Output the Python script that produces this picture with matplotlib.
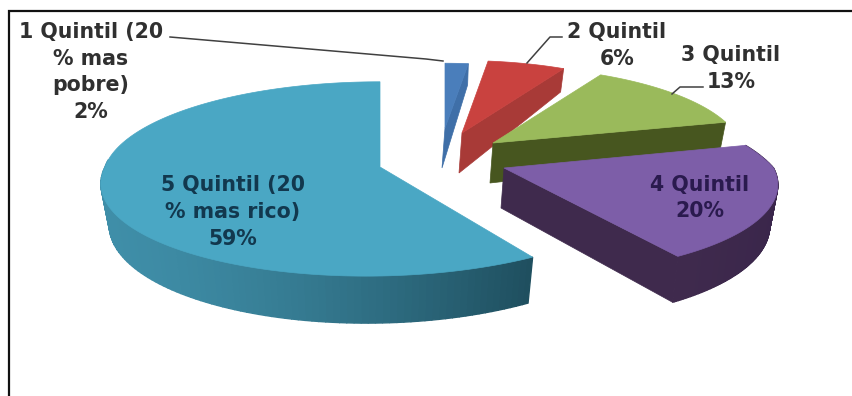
import numpy as np
import matplotlib
matplotlib.use('Agg')
import matplotlib.pyplot as plt
from matplotlib.colors import to_rgb

# Data
categories = ['1 Quintil (20\n% mas\npobre)', '2 Quintil', '3 Quintil', '4 Quintil', '5 Quintil (20\n% mas rico)']
values = [2, 6, 13, 20, 59]

# Look of each slice
top_colors = ['#4a7ebb', '#c9423f', '#9aba5b', '#7d5ea8', '#4aa7c4']
wall_colors = ['#3f6fa8', '#a83a37', '#47561f', '#3f2a4d', '#2f6f85']
rim_left = ['#2f5c90', '#93312f', '#47561f', '#3f2a4d', '#3f8ea8']
rim_right = ['#2f5c90', '#93312f', '#47561f', '#3a264b', '#1f4f5f']
label_colors = ['#303030', '#303030', '#303030', '#2a1a4e', '#12384e']

# Apex of each exploded slice and its radius scale, in pixels
apex_x = [445, 462, 493, 504, 380]
apex_y = [128, 133, 143, 168, 167]
scale = [0.76, 0.85, 0.90, 0.98, 1.0]
skew_front = [0, 0, 0, 15, -14]
skew_back = [0, 0, 0, -48, 0]
RADIUS = 275
TILT = 0.348
PERSP = 0.123
BOTTOM_SHRINK = 0.97

fig = plt.figure(figsize=(8.52, 3.96), dpi=100)
ax = fig.add_axes([0, 0, 1, 1])
ax.set_xlim(0, 852)
ax.set_ylim(396, 0)
ax.axis('off')


def project(theta, r, cx, cy, i):
    # theta clockwise from 12 o'clock, simple perspective on the pie plane
    s = scale[i]
    X = r * np.sin(theta)
    Y = -r * np.cos(theta)
    d = 1 - PERSP * Y
    lean = np.where(Y > 0, skew_front[i] * Y, skew_back[i] * -Y)
    return cx + RADIUS * s * X / d + lean, cy + RADIUS * s * TILT * Y / d, Y


def depth(Y):
    return np.interp(Y, [-1, 0, 1], [21, 40, 47])


fracs = np.array(values) / sum(values)
ends = np.cumsum(fracs) * 2 * np.pi
starts = ends - fracs * 2 * np.pi

for i in range(len(values)):
    cx, cy = apex_x[i], apex_y[i]
    th = np.linspace(starts[i], ends[i], 160)
    x, y, Y = project(th, 1.0, cx, cy, i)
    xb = cx + (x - cx) * BOTTOM_SHRINK

    # wall from the apex to the end angle
    if i < 4:
        ax.fill([cx, x[-1], xb[-1], cx - 3], [cy, y[-1], y[-1] + depth(Y[-1]), cy + depth(0)],
                color=wall_colors[i], lw=0.5, zorder=i * 3 + 1)

    # outer rim, front part only, colour moves along x
    c0, c1 = np.array(to_rgb(rim_left[i])), np.array(to_rgb(rim_right[i]))
    for j in range(len(th) - 1):
        if th[j] < np.pi * 0.42 and i != 4 or (i == 4 and th[j] > np.pi * 1.52):
            continue
        t = (x[j] - x.min()) / (x.max() - x.min())
        col = c0 + (c1 - c0) * t ** 1.5
        ax.fill([x[j], x[j + 1], xb[j + 1], xb[j]],
                [y[j], y[j + 1], y[j + 1] + depth(Y[j + 1]), y[j] + depth(Y[j])],
                color=col, lw=1.0, zorder=i * 3 + 2)

    # top face
    ax.fill(np.r_[cx, x], np.r_[cy, y], color=top_colors[i], lw=0.5, zorder=i * 3 + 3)

# Frame, top and left only
ax.plot([9, 9, 852], [396, 11, 11], color='#111111', lw=1.6, zorder=30, solid_joinstyle='miter')

# Leader lines
leader_color = '#404040'
ax.plot([170, 426, 443], [37, 59, 61], color=leader_color, lw=1.1, zorder=31)
ax.plot([562, 550, 527], [37, 37, 63], color=leader_color, lw=1.1, zorder=31)
ax.plot([703, 680, 672], [87, 87, 94], color=leader_color, lw=1.1, zorder=31)

# Labels
label_x = [91, 617, 731, 700, 233]
label_y = [72, 45.5, 68.5, 198, 212]
font = dict(family='DejaVu Sans', fontweight='bold', fontsize=14.8, ha='center', va='center',
            linespacing=1.42, zorder=32)
for i in range(len(values)):
    txt = '%s\n%d%%' % (categories[i], values[i])
    ax.text(label_x[i], label_y[i], txt, color=label_colors[i], **font)

fig.savefig('out.png', dpi=100)
